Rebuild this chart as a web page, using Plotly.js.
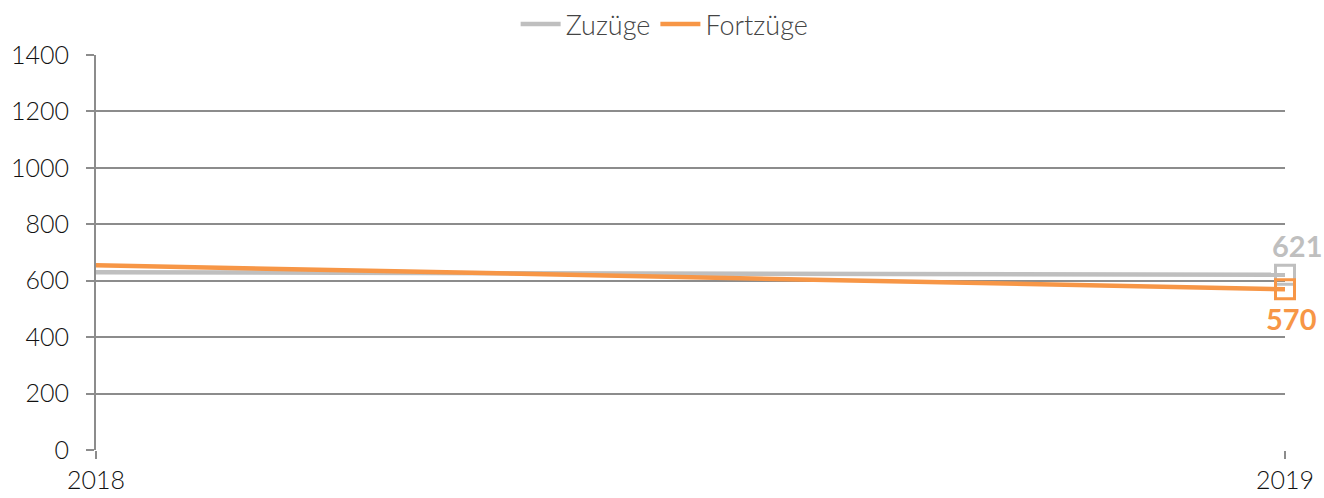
<!DOCTYPE html>
<html><head><meta charset="utf-8">
<script src="https://cdn.plot.ly/plotly-3.0.1.min.js"></script>
<style>html,body{margin:0;padding:0;background:#fff}#c{width:1324px;height:498px}</style>
</head><body><div id="c"></div>
<script>
const years = ['2018', '2019'];
const zuzuege = [630, 621];
const fortzuege = [655, 570];
const yTicks = [0, 200, 400, 600, 800, 1000, 1200, 1400];

const grey = '#BFBFBF', orange = '#F79646';
const last = years.length - 1;
const traces = [
  {x: years, y: zuzuege, name: 'Zuzüge', mode: 'lines', line: {color: grey, width: 4.5}},
  {x: years, y: fortzuege, name: 'Fortzüge', mode: 'lines', line: {color: orange, width: 4.5}},
  {x: [years[last]], y: [zuzuege[last]], mode: 'markers', showlegend: false,
   marker: {symbol: 'square-open', size: 19, color: grey, line: {width: 3, color: grey}},
   cliponaxis: false, hoverinfo: 'skip'},
  {x: [years[last]], y: [fortzuege[last]], mode: 'markers', showlegend: false,
   marker: {symbol: 'square-open', size: 19, color: orange, line: {width: 3, color: orange}},
   cliponaxis: false, hoverinfo: 'skip'}
];
const labelFont = (c) => ({family: 'Lato', size: 29, color: c, weight: 'bold'});
const layout = {
  width: 1324, height: 498,
  margin: {l: 96, r: 39, t: 55, b: 48},
  paper_bgcolor: '#fff', plot_bgcolor: '#fff',
  font: {family: 'Lato', size: 25, color: '#111', weight: 300},
  showlegend: true,
  legend: {orientation: 'h', x: 0.502, xanchor: 'center', xref: 'container', y: 1.0, yanchor: 'top', yref: 'container',
           font: {family: 'Lato', size: 27, color: '#444', weight: 300}, itemwidth: 40, tracegroupgap: 0},
  annotations: [
    {x: last, y: zuzuege[last], text: String(zuzuege[last]), showarrow: false, xref: 'x', yref: 'y',
     xanchor: 'center', yanchor: 'bottom', xshift: 12, yshift: 10, font: labelFont(grey)},
    {x: last, y: fortzuege[last], text: String(fortzuege[last]), showarrow: false, xref: 'x', yref: 'y',
     xanchor: 'center', yanchor: 'top', xshift: 6, yshift: -10, font: labelFont(orange)}
  ],
  xaxis: {type: 'category', range: [0, 1], showgrid: true, gridcolor: '#8c8c8c', gridwidth: 2,
          ticks: 'outside', ticklen: 8, tickcolor: '#8c8c8c', tickwidth: 2,
          showline: false, zeroline: false, tickfont: {family: 'Lato', size: 25, color: '#111', weight: 300}, automargin: false},
  yaxis: {range: [0, 1400], tickvals: yTicks, ticktext: yTicks.map(String),
          showgrid: true, gridcolor: '#8c8c8c', gridwidth: 2,
          ticks: 'outside', ticklen: 8, tickcolor: '#8c8c8c', tickwidth: 2, ticklabelstandoff: 12,
          showline: true, linecolor: '#8c8c8c', linewidth: 2, zeroline: false,
          tickfont: {family: 'Lato', size: 25, color: '#111', weight: 300}, automargin: false}
};
Plotly.newPlot('c', traces, layout, {displayModeBar: false, staticPlot: true});
</script></body></html>
